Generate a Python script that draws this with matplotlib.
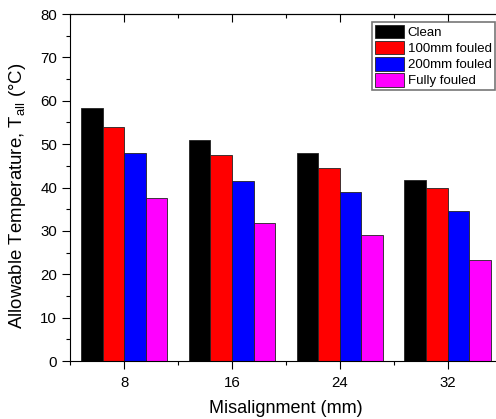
import numpy as np
import matplotlib
matplotlib.use('Agg')
import matplotlib.pyplot as plt
from matplotlib.ticker import MultipleLocator

plt.rcParams['font.family'] = ['Liberation Sans', 'DejaVu Sans']

# datos
misalignment = [8, 16, 24, 32]
series = ['Clean', '100mm fouled', '200mm fouled', 'Fully fouled']
clean = [58.4, 50.9, 48.0, 41.8]
fouled_100 = [53.9, 47.4, 44.4, 40.0]
fouled_200 = [48.0, 41.5, 39.0, 34.5]
fully_fouled = [37.7, 31.8, 29.0, 23.4]
colors = ['#000000', '#ff0000', '#0000ff', '#ff00ff']

fig = plt.figure(figsize=(4.96, 4.19), dpi=100)
ax = fig.add_axes([0.1417, 0.1384, 0.8694, 0.828])

x = np.array(misalignment, dtype=float)
w = 1.6
offsets = [-2.4, -0.8, 0.8, 2.4]
for vals, off, c, lab in zip([clean, fouled_100, fouled_200, fully_fouled], offsets, colors, series):
    ax.bar(x + off, vals, width=w, color=c, edgecolor='#222222', linewidth=0.6, label=lab)

ax.set_xlim(4, 36)
ax.set_ylim(0, 80)
ax.set_xticks(misalignment)
ax.xaxis.set_minor_locator(MultipleLocator(4))
ax.yaxis.set_major_locator(MultipleLocator(10))
ax.yaxis.set_minor_locator(MultipleLocator(5))

ax.tick_params(axis='both', which='major', labelsize=10.8, length=6, width=0.8, direction='out')
ax.tick_params(axis='both', which='minor', length=3, width=0.8, direction='out')
ax.tick_params(axis='x', which='major', pad=5)

# marcas de arriba hacia dentro
top = ax.secondary_xaxis('top')
top.set_xticks(misalignment)
top.xaxis.set_minor_locator(MultipleLocator(4))
top.tick_params(which='major', direction='in', length=6, width=0.8, labeltop=False)
top.tick_params(which='minor', direction='in', length=3, width=0.8)
top.spines['top'].set_linewidth(0.8)

ax.set_xlabel('Misalignment (mm)', fontsize=13, labelpad=7)
ax.set_ylabel(r'Allowable Temperature, T$_\mathregular{all}$ ($\mathregular{°C}$)', fontsize=13.4)
ax.yaxis.set_label_coords(-0.097, 0.475)

leg = ax.legend(loc='upper right', bbox_to_anchor=(494.5 / 496, 1 - 22 / 419),
                bbox_transform=fig.transFigure, fontsize=9.5, frameon=True,
                fancybox=False, handlelength=2.2, handleheight=1.2, labelspacing=0.15,
                handletextpad=0.3, borderpad=0.2, borderaxespad=0)
leg.get_frame().set_edgecolor('#555555')
leg.get_frame().set_linewidth(1.2)

fig.savefig('out.png', dpi=100)
